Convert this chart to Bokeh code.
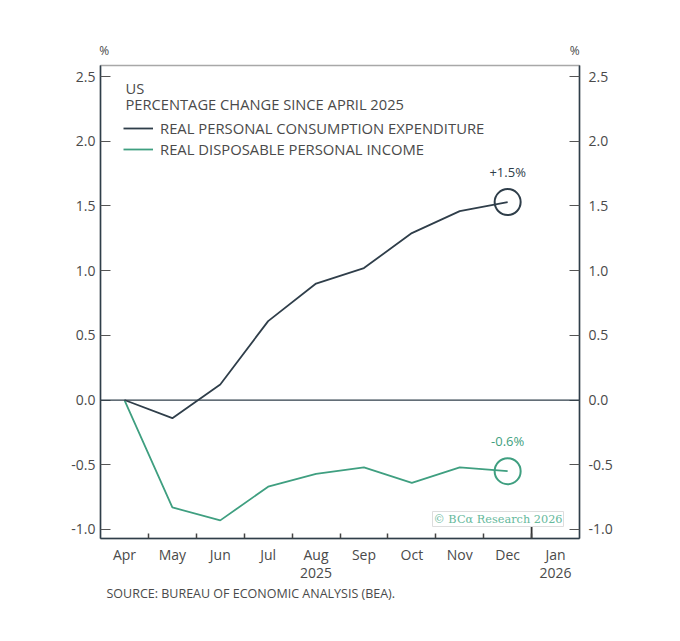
from bokeh.plotting import figure
from bokeh.models import (LinearAxis, FixedTicker, Span, Label, Legend, LegendItem,
                          ColumnDataSource, Range1d, Title)
from bokeh.core.properties import value
from bokeh.embed import file_html
from bokeh.resources import INLINE

# ---- data ----
months = ["Apr", "May", "Jun", "Jul", "Aug", "Sep", "Oct", "Nov", "Dec", "Jan"]
month_labels = ["Apr", "May", "Jun", "Jul", "Aug\n2025", "Sep", "Oct", "Nov", "Dec", "Jan\n2026"]
pce = [0.0, -0.14, 0.12, 0.61, 0.90, 1.02, 1.29, 1.46, 1.53]
rdpi = [0.0, -0.83, -0.93, -0.67, -0.57, -0.52, -0.64, -0.52, -0.55]
pce_label = "+1.5%"
rdpi_label = "-0.6%"
y_ticks = [-1.0, -0.5, 0.0, 0.5, 1.0, 1.5, 2.0, 2.5]

DARK = "#2f3e4a"
GREEN = "#3f9f80"
TXT = "#4a4a4a"
FONT = "Open Sans"

xs = list(range(len(pce)))
X0, X1 = -0.5, 9.5
Y0, Y1 = -1.07, 2.585

p = figure(width=660, height=612, output_backend="svg", toolbar_location=None,
           x_range=Range1d(X0, X1), y_range=Range1d(Y0, Y1),
           min_border_left=100, min_border_right=81, min_border_top=65, min_border_bottom=74,
           y_axis_location=None, x_axis_location=None)
p.xgrid.visible = False
p.ygrid.visible = False
p.outline_line_color = "#a8a8a8"
p.outline_line_width = 1.5
p.background_fill_color = "white"
p.border_fill_color = "white"

# axes
def style_y(ax):
    ax.ticker = FixedTicker(ticks=y_ticks)
    ax.major_label_overrides = {t: f"{t:.1f}" for t in y_ticks}
    ax.major_tick_in = 10
    ax.major_tick_out = 0
    ax.minor_tick_line_color = None
    ax.axis_line_color = DARK
    ax.axis_line_width = 1.5
    ax.major_tick_line_color = "#555555"
    ax.major_label_text_font = FONT
    ax.major_label_text_font_size = "14px"
    ax.major_label_text_color = TXT

yl = LinearAxis()
style_y(yl)
yl.major_label_standoff = 5
p.add_layout(yl, "left")
yr = LinearAxis()
style_y(yr)
yr.major_label_standoff = 9
p.add_layout(yr, "right")

xb = LinearAxis()
xb.ticker = FixedTicker(ticks=list(range(len(months))),
                        minor_ticks=[i + 0.5 for i in range(len(months) - 1)])
xb.major_label_overrides = {i: lab for i, lab in enumerate(month_labels)}
xb.major_tick_in = 0
xb.major_tick_out = 0
xb.minor_tick_in = 5
xb.minor_tick_out = 0
xb.minor_tick_line_color = "#444444"
xb.minor_tick_line_width = 1.5
xb.axis_line_color = DARK
xb.axis_line_width = 1.5
xb.major_label_standoff = 6
xb.major_label_text_font = FONT
xb.major_label_text_font_size = "14px"
xb.major_label_text_line_height = 0.95
xb.major_label_text_color = TXT
p.add_layout(xb, "below")

# "%" unit labels above both y axes
pct_pos = [X0 + 0.08, X1 - 0.1]
xt = LinearAxis()
xt.ticker = FixedTicker(ticks=pct_pos, minor_ticks=[])
xt.major_label_overrides = {pct_pos[0]: "%", pct_pos[1]: "%"}
xt.major_tick_line_color = None
xt.minor_tick_line_color = None
xt.axis_line_color = None
xt.major_label_standoff = 1
xt.major_label_text_font = FONT
xt.major_label_text_font_size = "12px"
xt.major_label_text_color = TXT
p.add_layout(xt, "above")

# source line
p.add_layout(Title(text="SOURCE: BUREAU OF ECONOMIC ANALYSIS (BEA).", align="left", offset=6,
                   text_font=FONT, text_font_size="12.5px", text_font_style="normal",
                   text_color=TXT, standoff=-4), "below")

# year boundary tick
p.segment(x0=[8.5], y0=[Y0], x1=[8.5], y1=[Y0 + 0.115], line_color="#333333", line_width=1.8)

# zero line
p.add_layout(Span(location=0, dimension="width", line_color=DARK, line_width=1.3))

# series
r1 = p.line(xs, pce, line_color=DARK, line_width=1.8)
r2 = p.line(xs, rdpi, line_color=GREEN, line_width=1.8)

end = ColumnDataSource(dict(x=[xs[-1], xs[-1]], y=[pce[-1], rdpi[-1]],
                            c=[DARK, GREEN], t=[pce_label, rdpi_label]))
p.scatter("x", "y", source=end, size=26, fill_color=None, line_color="c", line_width=2)
p.text("x", "y", text="t", source=end, text_color="c", text_font=value(FONT),
       text_font_size="13px", text_align="center", text_baseline="bottom", y_offset=-21)

# legend
legend = Legend(items=[LegendItem(label="REAL PERSONAL CONSUMPTION EXPENDITURE", renderers=[r1]),
                       LegendItem(label="REAL DISPOSABLE PERSONAL INCOME", renderers=[r2])],
                location=(23, 379), orientation="vertical",
                border_line_color=None, background_fill_alpha=0,
                padding=0, margin=0, spacing=1, glyph_width=30, glyph_height=20,
                label_height=20, label_standoff=7,
                label_text_font=FONT, label_text_font_size="14.8px", label_text_color=TXT)
p.add_layout(legend, "center")

# title lines inside frame
p.add_layout(Label(x=25, y=473 - 22, x_units="screen", y_units="screen", text="US",
                   text_font=FONT, text_font_size="14.7px", text_color=TXT, text_baseline="middle"))
p.add_layout(Label(x=25, y=473 - 38, x_units="screen", y_units="screen",
                   text="PERCENTAGE CHANGE SINCE APRIL 2025",
                   text_font=FONT, text_font_size="14.7px", text_color=TXT, text_baseline="middle"))

# watermark
p.add_layout(Label(x=463, y=12, x_units="screen", y_units="screen", text="© BCα Research 2026",
                   text_font="DejaVu Serif", text_font_size="11.3px", text_color="#66b99c",
                   text_align="right", border_line_color="#dddddd", background_fill_color="white",
                   padding=1))

open("out.html", "w").write(file_html(p, INLINE))
